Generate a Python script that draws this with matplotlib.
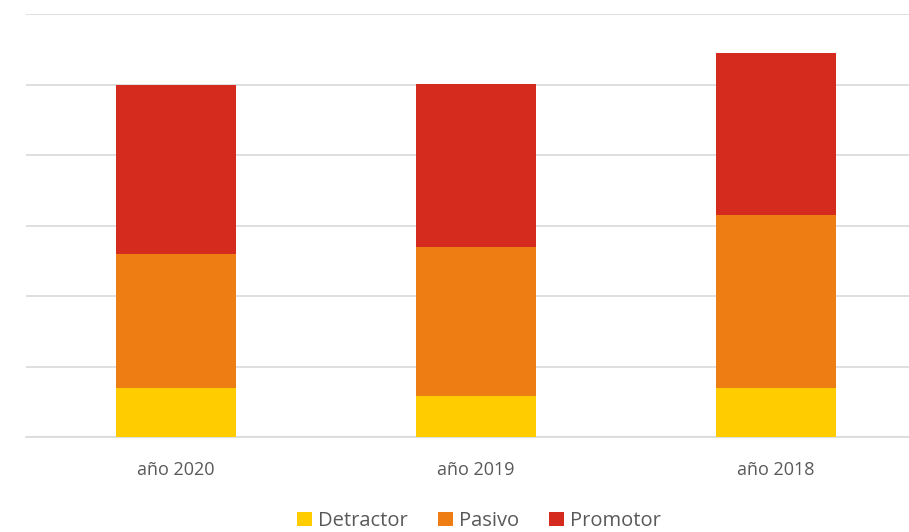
import matplotlib
matplotlib.use("Agg")
import matplotlib.pyplot as plt
import numpy as np

categories = ["año 2020", "año 2019", "año 2018"]
detractor = [14, 11.6, 14]
pasivo = [38, 42.4, 49]
promotor = [48, 46, 46]

plt.rcParams["font.family"] = ["Open Sans", "DejaVu Sans"]

fig = plt.figure(figsize=(9.09, 5.32), dpi=100)
ax = fig.add_axes([26 / 909, 1 - 437 / 532, 883 / 909, 423 / 532])

x = np.arange(len(categories))
w = 0.4
det = np.array(detractor)
pas = np.array(pasivo)
pro = np.array(promotor)

ax.bar(x, det, w, color="#FFCC00", label="Detractor", zorder=3)
ax.bar(x, pas, w, bottom=det, color="#EE7D14", label="Pasivo", zorder=3)
ax.bar(x, pro, w, bottom=det + pas, color="#D52B1E", label="Promotor", zorder=3)

ax.set_xlim(-0.5, 2.443)
ax.set_ylim(0, 120)
ax.set_yticks(np.arange(0, 121, 20))
ax.yaxis.grid(True, color="#D9D9D9", linewidth=1.2, zorder=0)
ax.tick_params(axis="y", left=False, labelleft=False)
ax.tick_params(axis="x", bottom=False, labelsize=13, labelcolor="#595959", pad=14)
ax.set_xticks(x)
ax.set_xticklabels(categories)
for s in ["top", "right", "left"]:
    ax.spines[s].set_visible(False)
ax.spines["bottom"].set_color("#D9D9D9")
ax.spines["bottom"].set_linewidth(1.2)

fig.legend(loc="center", bbox_to_anchor=(479 / 909, 1 - 521 / 532), ncol=3, frameon=False,
           fontsize=14.5, labelcolor="#595959", handlelength=0.75, handleheight=0.75,
           handletextpad=0.3, columnspacing=1.5)

fig.savefig("out.png", dpi=100)
